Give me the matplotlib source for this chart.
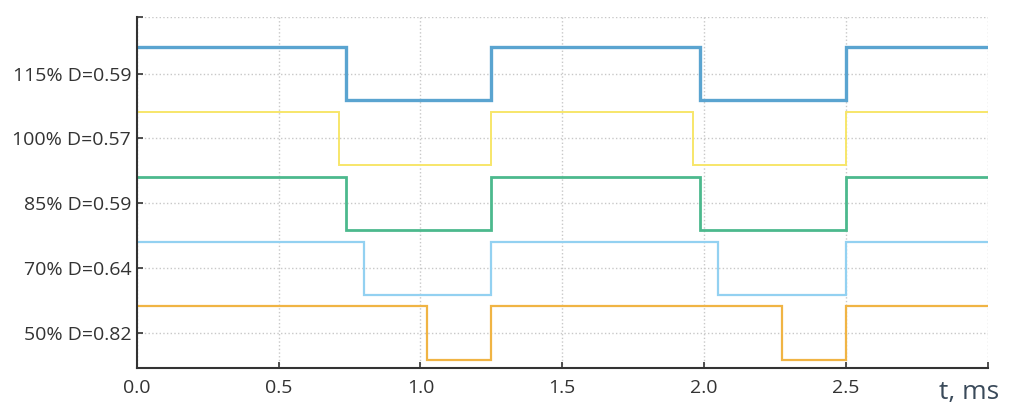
import numpy as np
import matplotlib.pyplot as plt

# duty-cycle waveforms, period 1.25 ms
period = 1.25
t_end = 3.0
labels = ["50% D=0.82", "70% D=0.64", "85% D=0.59", "100% D=0.57", "115% D=0.59"]
duties = [0.82, 0.64, 0.59, 0.57, 0.59]
colors = ["#f0b444", "#93d1f1", "#4cb98d", "#f7e66a", "#5aa4d0"]
widths = [1.6, 1.6, 2.0, 1.4, 2.4]
amp = 0.41

plt.rcParams['font.family'] = ['Open Sans', 'DejaVu Sans']

fig = plt.figure(figsize=(10.13, 4.09), dpi=100)
ax = fig.add_axes([0.135, 0.10, 0.84, 0.858])

for i, (d, c, w) in enumerate(zip(duties, colors, widths)):
    edges = [0.0]
    levels = []
    k = 0
    while edges[-1] < t_end:
        for e, lv in ((k * period + d * period, 1), ((k + 1) * period, -1)):
            if edges[-1] < t_end:
                levels.append(lv)
                edges.append(min(e, t_end))
        k += 1
    levels.append(levels[-1])
    y = i + amp * np.array(levels)
    ax.step(edges, y, where='post', color=c, lw=w, solid_joinstyle='miter')

ax.set_xlim(0, t_end)
ax.set_ylim(-0.54, 4.87)
ax.set_xticks([0, 0.5, 1.0, 1.5, 2.0, 2.5, 3.0])
ax.set_xticklabels(["0.0", "0.5", "1.0", "1.5", "2.0", "2.5", ""])
ax.set_yticks([0, 1, 2, 3, 4, 4.87])
ax.set_yticklabels(labels + [""])
ax.tick_params(direction='in', length=4, width=1.2, colors='#333333', labelsize=14, labelcolor='#333333')
ax.tick_params(axis='y', pad=4)
ax.tick_params(axis='x', pad=8)
ax.grid(True, ls=':', color='#c8c8c8', lw=1)
for s in ['top', 'right']:
    ax.spines[s].set_visible(False)
for s in ['left', 'bottom']:
    ax.spines[s].set_color('#333333')
    ax.spines[s].set_linewidth(1.5)

fig.text(0.927, 0.025, "t, ms", fontsize=19, color='#3a4a5a')

fig.savefig("out.png", dpi=100)
